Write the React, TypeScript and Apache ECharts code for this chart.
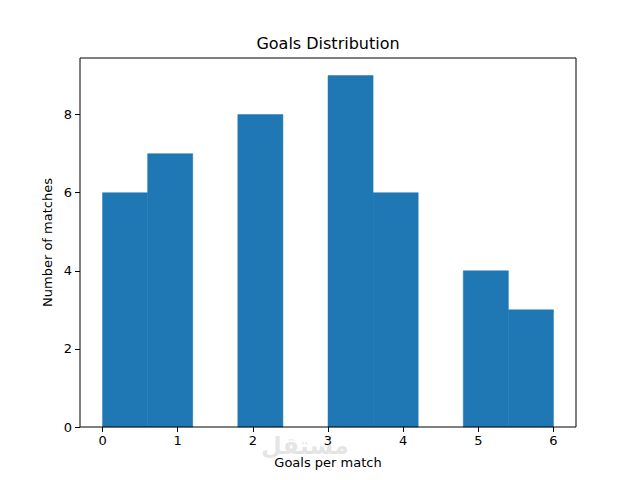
import React, { useEffect, useRef } from "react";
import * as echarts from "echarts";

const binEdges = [0, 0.6, 1.2, 1.8, 2.4, 3.0, 3.6, 4.2, 4.8, 5.4, 6.0];
const counts = [6, 7, 0, 8, 0, 9, 6, 0, 4, 3];
const xTicks = [0, 1, 2, 3, 4, 5, 6];
const yTicks = [0, 2, 4, 6, 8];

const FONT = "DejaVu Sans";

export default function App() {
  const ref = useRef<HTMLDivElement>(null);
  useEffect(() => {
    if (!ref.current) return;
    const chart = echarts.init(ref.current, undefined, { renderer: "svg" });
    const data = counts.map((c, i) => [binEdges[i], binEdges[i + 1], c]);
    const left = 80, right = 576, top = 58, bottom = 427;
    chart.setOption({
      animation: false,
      backgroundColor: "#ffffff",
      grid: { left, top, width: right - left, height: bottom - top, containLabel: false },
      xAxis: {
        type: "value",
        min: -0.3,
        max: 6.3,
        splitLine: { show: false },
        axisLine: { show: false, onZero: false },
        axisTick: { show: true, customValues: xTicks, length: 5, lineStyle: { color: "#000" } },
        axisLabel: { customValues: xTicks, color: "#000", fontFamily: FONT, fontSize: 13, margin: 7 },
      },
      yAxis: {
        type: "value",
        min: 0,
        max: 9.45,
        splitLine: { show: false },
        axisLine: { show: false, onZero: false },
        axisTick: { show: true, customValues: yTicks, length: 5, lineStyle: { color: "#000" } },
        axisLabel: { customValues: yTicks, color: "#000", fontFamily: FONT, fontSize: 13, margin: 8 },
      },
      series: [
        {
          type: "custom",
          data,
          encode: { x: [0, 1], y: 2 },
          renderItem: (params: any, api: any) => {
            const x0 = api.value(0), x1 = api.value(1), c = api.value(2);
            if (!c) return null;
            const p0 = api.coord([x0, c]);
            const p1 = api.coord([x1, 0]);
            return {
              type: "rect",
              shape: { x: p0[0], y: p0[1], width: p1[0] - p0[0], height: p1[1] - p0[1] },
              style: { fill: "#1f77b4", stroke: "#1f77b4", lineWidth: 0.5 },
            };
          },
        },
      ],
      graphic: [
        {
          type: "rect",
          shape: { x: left, y: top, width: right - left, height: bottom - top },
          style: { fill: "none", stroke: "#000", lineWidth: 1 },
          z: 10,
        },
        {
          type: "text",
          x: (left + right) / 2,
          y: 43,
          style: { text: "Goals Distribution", fontFamily: FONT, fontSize: 16, fill: "#000", align: "center", verticalAlign: "middle" },
        },
        {
          type: "text",
          x: (left + right) / 2,
          y: 462,
          style: { text: "Goals per match", fontFamily: FONT, fontSize: 13, fill: "#000", align: "center", verticalAlign: "middle" },
        },
        {
          type: "text",
          x: 47,
          y: (top + bottom) / 2,
          rotation: Math.PI / 2,
          style: { text: "Number of matches", fontFamily: FONT, fontSize: 13, fill: "#000", align: "center", verticalAlign: "middle" },
        },
        {
          type: "text",
          x: 305,
          y: 446,
          style: { text: "مستقل", fontFamily: "DejaVu Sans", fontSize: 24, fontWeight: "bold", fill: "rgba(180,180,180,0.35)", align: "center", verticalAlign: "middle" },
          z: 20,
        },
      ],
    });
    return () => chart.dispose();
  }, []);
  return <div ref={ref} style={{ width: 640, height: 480, position: "absolute", left: 0, top: 0 }} />;
}
